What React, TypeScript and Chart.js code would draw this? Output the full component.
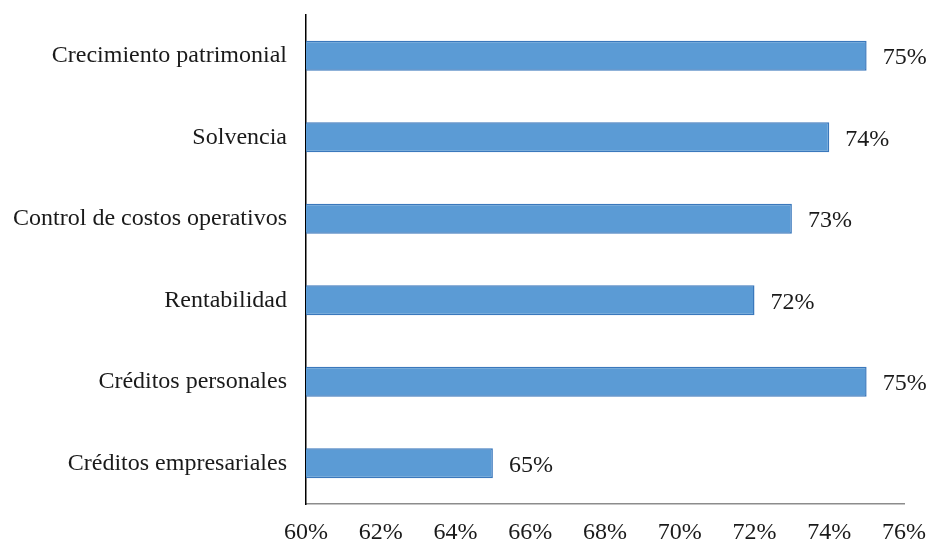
import React, { useEffect, useRef } from "react";
import { Chart, registerables } from "chart.js";

Chart.register(...registerables);

const categories = [
  "Crecimiento patrimonial",
  "Solvencia",
  "Control de costos operativos",
  "Rentabilidad",
  "Créditos personales",
  "Créditos empresariales",
];
const values = [75, 74, 73, 72, 75, 65];
const xMin = 60;
const xMax = 76;
const xStep = 2;

const FONT = "'Liberation Serif', 'Times New Roman', serif";

const valueLabels = {
  id: "valueLabels",
  afterDatasetsDraw(chart: any) {
    const ctx = chart.ctx;
    const meta = chart.getDatasetMeta(0);
    ctx.save();
    ctx.font = `24px ${FONT}`;
    ctx.fillStyle = "#1a1a1a";
    ctx.textAlign = "left";
    ctx.textBaseline = "middle";
    meta.data.forEach((bar: any, i: number) => {
      ctx.fillText(`${values[i]}%`, bar.x + 16, bar.y + 2);
    });
    ctx.restore();
  },
};

export default function App() {
  const ref = useRef<HTMLCanvasElement>(null);
  useEffect(() => {
    document.body.style.margin = "0";
    const chart = new Chart(ref.current!, {
      type: "bar",
      data: {
        labels: categories,
        datasets: [
          {
            data: values,
            backgroundColor: "#5B9BD5",
            borderColor: "#3A78BC",
            borderWidth: 1.5,
            barPercentage: 0.368,
            categoryPercentage: 1,
          },
        ],
      },
      options: {
        indexAxis: "y",
        animation: false,
        responsive: false,
        maintainAspectRatio: false,
        layout: { padding: { top: 15, right: 24, left: 0, bottom: 0 } },
        plugins: { legend: { display: false }, tooltip: { enabled: false } },
        scales: {
          x: {
            min: xMin,
            max: xMax,
            grid: { display: false },
            border: { display: true, color: "#8c8c8c", width: 1.5 },
            ticks: {
              stepSize: xStep,
              color: "#1a1a1a",
              font: { family: FONT, size: 24 },
              padding: 6,
              maxRotation: 0,
              autoSkip: false,
              callback: (v: any) => `${v}%`,
            },
            afterFit: (s: any) => {
              s.height = 39;
              s.paddingLeft = 0;
              s.paddingRight = 0;
            },
          },
          y: {
            grid: { display: false },
            border: { display: true, color: "#000", width: 1.5 },
            ticks: {
              color: "#1a1a1a",
              font: { family: FONT, size: 24 },
              padding: 11,
            },
            afterFit: (s: any) => {
              s.width = 306;
              s.paddingTop = 0;
              s.paddingBottom = 0;
            },
          },
        },
      },
      plugins: [valueLabels],
    });
    return () => chart.destroy();
  }, []);
  return (
    <div style={{ width: 928, height: 543, position: "relative" }}>
      <canvas ref={ref} width={928} height={543} />
    </div>
  );
}
